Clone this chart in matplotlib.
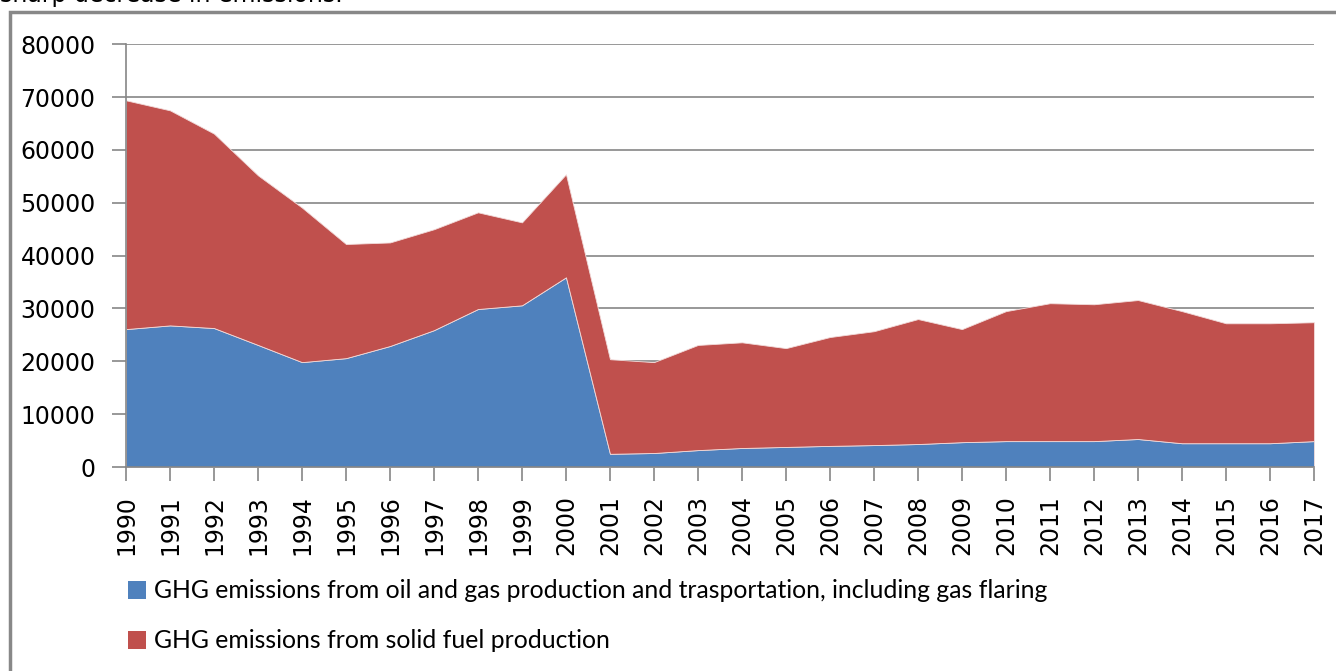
import matplotlib.pyplot as plt
from matplotlib.patches import Patch, Rectangle

years = [str(y) for y in range(1990, 2018)]
oil_gas = [26100, 26800, 26300, 23100, 19850, 20600, 22900, 25900, 29900, 30600,
           35900, 2500, 2650, 3200, 3600, 3800, 4000, 4150, 4350, 4700,
           4900, 4900, 4900, 5300, 4500, 4500, 4500, 4900]
solid_fuel = [43300, 40700, 36800, 32100, 29250, 21600, 19600, 19100, 18300, 15700,
              19500, 17900, 17200, 19900, 20000, 18700, 20600, 21550, 23650, 21400,
              24600, 26100, 25900, 26300, 25000, 22700, 22700, 22500]
labels = ['GHG emissions from oil and gas production and trasportation, including gas flaring',
          'GHG emissions from solid fuel production']
colors = ['#4F81BD', '#C0504D']
yticks = list(range(0, 80001, 10000))

fig = plt.figure(figsize=(13.36, 6.71), dpi=100)
ax = fig.add_axes([0.0943, 0.304, 0.8892, 0.630])

x = list(range(len(years)))
ax.stackplot(x, oil_gas, solid_fuel, colors=colors, edgecolor='#f2dcdb', linewidth=0.6)

ax.set_xlim(0, len(years) - 1)
ax.set_ylim(0, 80000)
ax.set_yticks(yticks)
ax.set_yticklabels([str(v) for v in yticks])
ax.set_xticks(x)
ax.set_xticklabels(years, rotation=90)
ax.yaxis.grid(True, color='#868686', linewidth=1.2)
ax.set_axisbelow(True)
for s in ['top', 'right']:
    ax.spines[s].set_visible(False)
for s in ['left', 'bottom']:
    ax.spines[s].set_color('#868686')
    ax.spines[s].set_linewidth(1.2)
ax.tick_params(axis='both', colors='#868686', length=10, width=1.2, labelcolor='black',
               labelsize=17, direction='out')
ax.tick_params(axis='y', pad=12)
ax.tick_params(axis='x', pad=10)

# outer frame of the chart
fig.patches.append(Rectangle((10 / 1336, -0.05), 1.1, 1 - 12 / 671 + 0.05,
                             transform=fig.transFigure, fill=False,
                             edgecolor='#888888', linewidth=2.5))

# cut-off line of text from the page above
fig.text(0.0, 1 - 2 / 671, 'sharp decrease in emissions.', fontsize=17,
         va='baseline', ha='left')

handles = [Patch(facecolor=c, edgecolor='none') for c in colors]
fig.legend(handles, labels, loc='upper left', bbox_to_anchor=(0.079, 0.17),
           frameon=False, handlelength=0.75, handleheight=0.75, handletextpad=0.3,
           labelspacing=1.1, prop={'family': 'Lato', 'size': 17.8})

plt.savefig('out.png', dpi=100)
